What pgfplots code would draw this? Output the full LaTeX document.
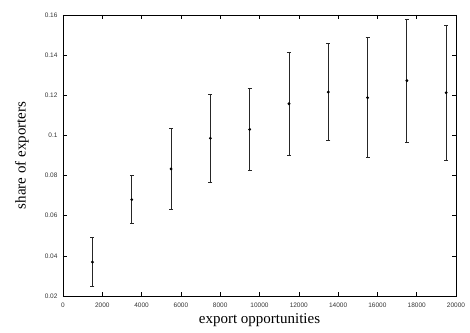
\documentclass[border=0pt]{standalone}
\usepackage{fontspec}
\setmainfont{Liberation Serif}
\setsansfont{Liberation Sans}
\usepackage{pgfplots}
\usepackage{pgfplotstable}
\pgfplotsset{compat=1.18}
\pgfplotstableread{
x y ep em
1500 0.0369 0.0121 0.0121
3500 0.0680 0.0121 0.0120
5500 0.0833 0.0202 0.0200
7500 0.0986 0.0219 0.0220
9500 0.1030 0.0203 0.0204
11500 0.1158 0.0254 0.0256
13500 0.1216 0.0244 0.0242
15500 0.1188 0.0299 0.0296
17500 0.1273 0.0304 0.0307
19500 0.1213 0.0336 0.0335
}\datatable
\begin{document}
\begin{tikzpicture}
\begin{axis}[
  at={(0pt,0pt)}, anchor=south west,
  scale only axis,
  width=393pt, height=281pt,
  xmin=0, xmax=20000, ymin=0.02, ymax=0.16,
  xtick={0,2000,...,20000},
  ytick={0.02,0.04,0.06,0.08,0.1,0.12,0.14,0.16},
  scaled ticks=false,
  tick pos=both,
  tick align=inside,
  major tick length=4pt,
  tick style={black, line width=0.6pt},
  axis line style={line width=0.9pt},
  /pgf/number format/assume math mode=true,
  xticklabel={\pgfmathprintnumber[fixed,1000 sep={},precision=0]{\tick}},
  yticklabel={\pgfmathprintnumber[fixed,precision=2]{\tick}},
  ticklabel style={font=\sffamily\fontsize{6.5}{7.5}\selectfont, text=black!80},
  xticklabel style={yshift=-3pt},
  yticklabel style={xshift=-2pt},
  xlabel={export opportunities},
  ylabel={share of exporters},
  xlabel style={font=\fontsize{15}{17}\selectfont, at={(axis description cs:0.5,0)}, anchor=base, yshift=-27pt},
  ylabel style={font=\fontsize{15}{17}\selectfont, at={(axis description cs:-0.1043,0.5)}, anchor=center},
]
\addplot+[black, only marks, mark=*, mark size=1pt, line width=0.8pt,
  mark options={fill=black},
  error bars/.cd, y dir=both, y explicit,
  error bar style={line width=0.8pt, black!85},
  error mark options={rotate=90, mark size=2pt, line width=0.7pt, black!85}]
  table[x=x, y=y, y error plus=ep, y error minus=em] {\datatable};
\end{axis}
\pgfresetboundingbox
\path (-63pt,-36pt) rectangle (407pt,296pt);
\end{tikzpicture}
\end{document}
